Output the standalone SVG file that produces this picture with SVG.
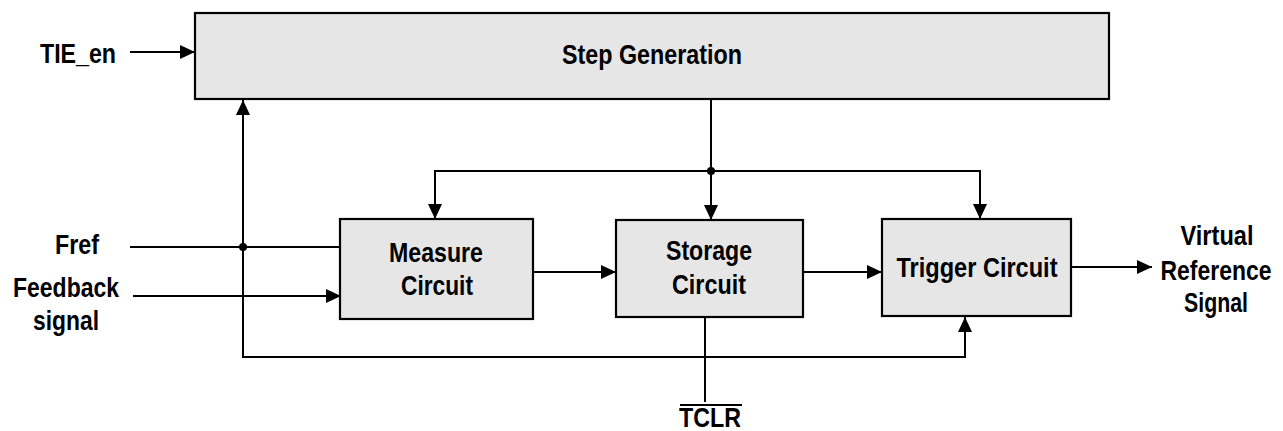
<svg xmlns="http://www.w3.org/2000/svg" width="1283" height="431" viewBox="0 0 1283 431">
<style>
.box{fill:#e6e6e6;stroke:#000;stroke-width:2.2}
.w{fill:none;stroke:#000;stroke-width:2}
.t{font-family:"Liberation Sans",Arial,sans-serif;font-weight:bold;font-size:28px;fill:#000;text-anchor:middle}
</style>
<defs>
<marker id="ah" markerUnits="userSpaceOnUse" markerWidth="16" markerHeight="16" viewBox="0 0 16 16" refX="15" refY="8" orient="auto">
<path d="M0,1 L15,8 L0,15 Z" fill="#000"/>
</marker>
</defs>
<rect width="1283" height="431" fill="#fff"/>
<g id="connectors">
<line class="w" x1="130" y1="52" x2="195" y2="52" marker-end="url(#ah)"/>
<line class="w" x1="130" y1="247" x2="340" y2="247"/>
<line class="w" x1="133" y1="296" x2="341" y2="296" marker-end="url(#ah)"/>
<polyline class="w" points="243,247 243,357 965,357 965,317" marker-end="url(#ah)"/>
<line class="w" x1="243" y1="247" x2="243" y2="100" marker-end="url(#ah)"/>
<line class="w" x1="711" y1="99" x2="711" y2="220" marker-end="url(#ah)"/>
<polyline class="w" points="711,171 435,171 435,219" marker-end="url(#ah)"/>
<polyline class="w" points="711,171 980,171 980,219" marker-end="url(#ah)"/>
<line class="w" x1="533" y1="272" x2="616" y2="272" marker-end="url(#ah)"/>
<line class="w" x1="803" y1="272" x2="882" y2="272" marker-end="url(#ah)"/>
<line class="w" x1="1071" y1="267" x2="1152" y2="267" marker-end="url(#ah)"/>
<line class="w" x1="705" y1="317" x2="705" y2="402"/>
<circle cx="243" cy="247" r="4" fill="#000"/>
<circle cx="711" cy="171" r="4" fill="#000"/>
</g>
<g id="step-generation">
<rect class="box" x="195" y="13" width="914" height="86"/>
<text class="t" x="652" y="64" textLength="180" lengthAdjust="spacingAndGlyphs">Step Generation</text>
</g>
<g id="measure-circuit">
<rect class="box" x="340" y="219" width="193" height="100"/>
<text class="t" x="436" y="262" textLength="94" lengthAdjust="spacingAndGlyphs">Measure</text>
<text class="t" x="437" y="295" textLength="72" lengthAdjust="spacingAndGlyphs">Circuit</text>
</g>
<g id="storage-circuit">
<rect class="box" x="616" y="220" width="187" height="97"/>
<text class="t" x="709" y="260" textLength="86" lengthAdjust="spacingAndGlyphs">Storage</text>
<text class="t" x="709" y="294" textLength="74" lengthAdjust="spacingAndGlyphs">Circuit</text>
</g>
<g id="trigger-circuit">
<rect class="box" x="882" y="219" width="189" height="97"/>
<text class="t" x="977" y="277" textLength="161" lengthAdjust="spacingAndGlyphs">Trigger Circuit</text>
</g>
<g id="labels">
<text class="t" x="78" y="63" textLength="76" lengthAdjust="spacingAndGlyphs">TIE_en</text>
<text class="t" x="77" y="254" textLength="44" lengthAdjust="spacingAndGlyphs">Fref</text>
<text class="t" x="66" y="297" textLength="106" lengthAdjust="spacingAndGlyphs">Feedback</text>
<text class="t" x="66" y="330" textLength="66" lengthAdjust="spacingAndGlyphs">signal</text>
<text class="t" x="1217" y="245" textLength="73" lengthAdjust="spacingAndGlyphs">Virtual</text>
<text class="t" x="1216" y="280" textLength="111" lengthAdjust="spacingAndGlyphs">Reference</text>
<text class="t" x="1216" y="312" textLength="64" lengthAdjust="spacingAndGlyphs">Signal</text>
<text class="t" x="710" y="427" textLength="62" lengthAdjust="spacingAndGlyphs">TCLR</text>
<line x1="680" y1="405" x2="742" y2="405" stroke="#000" stroke-width="2"/>
</g>
</svg>
